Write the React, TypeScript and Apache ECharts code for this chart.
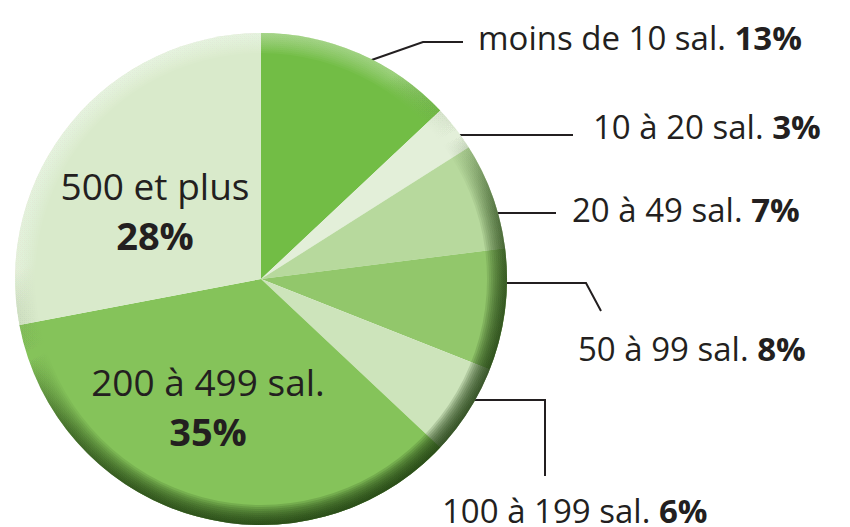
import React, { useEffect, useRef } from "react";
import * as echarts from "echarts";

const categories = [
  "moins de 10 sal.",
  "10 à 20 sal.",
  "20 à 49 sal.",
  "50 à 99 sal.",
  "100 à 199 sal.",
  "200 à 499 sal.",
  "500 et plus",
];
const shares = [13, 3, 7, 8, 6, 35, 28];
const colors = ["#72bd45", "#e3efd9", "#b7d99d", "#92c76b", "#cde4bb", "#85c35a", "#d9eacb"];
const insideLabel = [false, false, false, false, false, true, true];

const CX = 261;
const CY = 279;
const R = 246;

const labelLayouts: any[] = [
  { x: 478, y: 37, align: "left", pts: [[363, 63], [423, 42], [463, 42]] },
  { x: 593, y: 126, align: "left", pts: [[446, 135], [510, 135], [573, 135]] },
  { x: 572, y: 209, align: "left", pts: [[482, 213], [520, 213], [556, 213]] },
  { x: 578, y: 348, align: "left", pts: [[494, 283], [586, 283], [601, 311]] },
  { x: 442, y: 510, align: "left", pts: [[462, 400], [545, 400], [545, 476]] },
  { x: 208, y: 406, align: "center" },
  { x: 155, y: 210, align: "center" },
];

export default function App() {
  const ref = useRef<HTMLDivElement>(null);
  useEffect(() => {
    if (!ref.current) return;
    const chart = echarts.init(ref.current, undefined, { renderer: "svg" });
    const font = "'Open Sans', 'Noto Sans', sans-serif";
    const data = categories.map((name, i) => ({
      name,
      value: shares[i],
      itemStyle: { color: colors[i] },
      labelLine: { show: !insideLabel[i] },
      label: {
        position: insideLabel[i] ? "inside" : "outside",
        overflow: "none",
        formatter: insideLabel[i]
          ? `{ni|${name}}\n{pi|${shares[i]}%}`
          : `{n|${name} }{p|${shares[i]}%}`,
      },
    }));

    const rings: any[] = [];
    const N = 10;
    for (let k = 1; k <= N; k++) {
      rings.push({
        type: "ring",
        silent: true,
        z: 10 + k,
        shape: { cx: CX, cy: CY, r: R, r0: R - 2 * k },
        style: {
          fill: new echarts.graphic.LinearGradient(0.2, 0, 0.72, 1, [
            { offset: 0, color: "rgba(255,255,255,0.05)" },
            { offset: 0.3, color: "rgba(255,255,255,0.035)" },
            { offset: 0.45, color: "rgba(30,60,15,0.0)" },
            { offset: 0.6, color: "rgba(30,60,15,0.09)" },
            { offset: 0.75, color: "rgba(30,60,15,0.14)" },
            { offset: 1, color: "rgba(28,58,14,0.18)" },
          ]),
        },
      });
    }

    chart.setOption({
      animation: false,
      backgroundColor: "#ffffff",
      series: [
        {
          type: "pie",
          center: [CX, CY],
          radius: R,
          startAngle: 90,
          clockwise: true,
          avoidLabelOverlap: false,
          z: 2,
          itemStyle: { borderWidth: 0 },
          label: {
            show: true,
            color: "#231f20",
            rich: {
              n: { fontFamily: font, fontSize: 33, fontWeight: 400, color: "#231f20", lineHeight: 52 },
              p: { fontFamily: font, fontSize: 33, fontWeight: 700, color: "#231f20", lineHeight: 52 },
              ni: { fontFamily: font, fontSize: 37, fontWeight: 400, color: "#231f20", lineHeight: 50, align: "center" },
              pi: { fontFamily: font, fontSize: 38, fontWeight: 700, color: "#231f20", lineHeight: 50, align: "center" },
            },
          },
          labelLine: { show: true, lineStyle: { color: "#231f20", width: 2 } },
          labelLayout: (params: any) => {
            const l = labelLayouts[params.dataIndex];
            const out: any = {
              x: l.x,
              y: l.y,
              align: l.align,
              verticalAlign: "middle",
              hideOverlap: false,
            };
            if (l.pts) out.labelLinePoints = l.pts;
            return out;
          },
          data,
        },
      ],
      graphic: rings,
    });
    return () => chart.dispose();
  }, []);
  return (
    <div
      ref={ref}
      style={{ position: "fixed", left: 0, top: 0, width: 850, height: 527 }}
    />
  );
}
